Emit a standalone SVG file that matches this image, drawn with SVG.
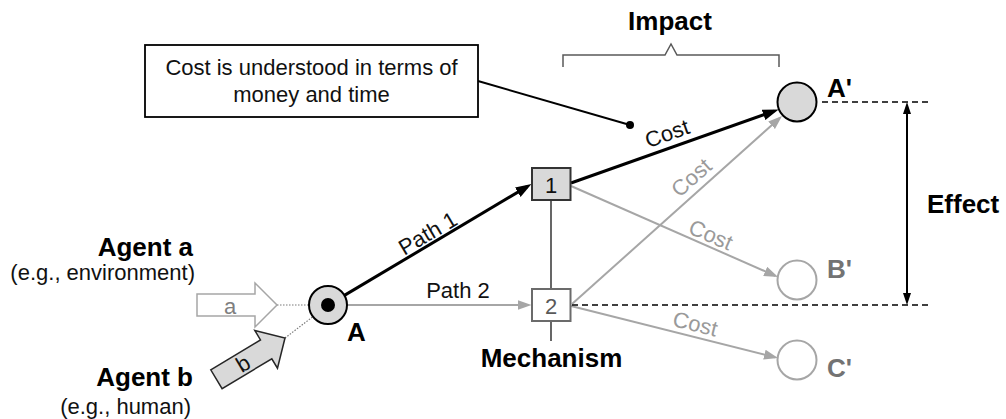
<svg xmlns="http://www.w3.org/2000/svg" width="1006" height="419" viewBox="0 0 1006 419">
  <defs>
    <style>
      text { font-family: "Liberation Sans", Arial, sans-serif; }
      .lbl { font-size: 22px; fill: #111; }
      .big { font-size: 26px; font-weight: bold; fill: #000; }
      .dim { fill: #737373; }
      .glab { font-size: 22px; fill: #9a9a9a; }
      .blk { stroke: #000; stroke-width: 3; fill: none; }
      .gry { stroke: #a6a6a6; stroke-width: 2; fill: none; }
      .dash { stroke: #000; stroke-width: 1.5; stroke-dasharray: 6 4; fill: none; }
      .dot { stroke: #7a7a7a; stroke-width: 1.2; stroke-dasharray: 1.5 1.5; fill: none; }
    </style>
    <marker id="ahBlack" markerUnits="userSpaceOnUse" markerWidth="16" markerHeight="12" refX="11" refY="6" orient="auto">
      <path d="M0,0.5 L16,6 L0,11.5 z" fill="#000"/>
    </marker>
    <marker id="ahGray" markerUnits="userSpaceOnUse" markerWidth="14" markerHeight="10" refX="11" refY="5" orient="auto">
      <path d="M0,0 L14,5 L0,10 z" fill="#a6a6a6"/>
    </marker>
    <marker id="ahDim" markerUnits="userSpaceOnUse" markerWidth="12" markerHeight="8" refX="9" refY="4" orient="auto-start-reverse">
      <path d="M0,0 L12,4 L0,8 z" fill="#000"/>
    </marker>
  </defs>

  <rect width="1006" height="419" fill="#fff"/>

  <!-- connectors -->
  <g id="connectors">
    <!-- A to mechanism 1 -->
    <line class="blk" x1="344.4" y1="295.4" x2="527.2" y2="186.6" marker-end="url(#ahBlack)"/>
    <g transform="translate(433.6,243.3) rotate(-30.5)"><text class="lbl" x="0" y="-4" text-anchor="middle">Path 1</text></g>
    <!-- A to mechanism 2 -->
    <line class="gry" x1="347" y1="305" x2="528.5" y2="305" marker-end="url(#ahGray)"/>
    <text class="lbl" x="458" y="298" text-anchor="middle">Path 2</text>
    <!-- mechanism 1 to A' -->
    <line class="blk" x1="571" y1="183" x2="773.9" y2="111.2" marker-end="url(#ahBlack)"/>
    <g transform="translate(672,147.2) rotate(-19.5)"><text class="lbl" x="0" y="-7" text-anchor="middle">Cost</text></g>
    <!-- mechanism 2 to A' -->
    <line class="gry" x1="572" y1="304" x2="779.8" y2="118" marker-end="url(#ahGray)"/>
    <g transform="translate(701,188.5) rotate(-41.8)"><text class="glab" x="0" y="-7" text-anchor="middle">Cost</text></g>
    <!-- mechanism 1 to B' -->
    <line class="gry" x1="571" y1="186" x2="775.3" y2="275.8" marker-end="url(#ahGray)"/>
    <g transform="translate(706.2,245.4) rotate(23.7)"><text class="glab" x="0" y="-4" text-anchor="middle">Cost</text></g>
    <!-- mechanism 2 to C' -->
    <line class="gry" x1="571" y1="306" x2="775.1" y2="357.3" marker-end="url(#ahGray)"/>
    <g transform="translate(692.3,336.1) rotate(14.1)"><text class="glab" x="0" y="-5" text-anchor="middle">Cost</text></g>
    <!-- agent inputs -->
    <line class="dot" x1="277" y1="305" x2="309" y2="305"/>
    <line class="dot" x1="285" y1="338" x2="313" y2="316.6"/>
    <!-- mechanism axis -->
    <line x1="551" y1="200" x2="551" y2="289" stroke="#000" stroke-width="1.2"/>
    <line x1="551" y1="321" x2="551" y2="341" stroke="#000" stroke-width="1.2"/>
    <!-- callout leader -->
    <line x1="478" y1="81" x2="630" y2="125" stroke="#000" stroke-width="2"/>
    <circle cx="630" cy="125" r="4" fill="#000"/>
  </g>

  <!-- agents -->
  <g id="agentA">
    <polygon points="197,294 255,294 255,283 277,305 255,327 255,316 197,316" fill="#fff" stroke="#a6a6a6" stroke-width="1.5"/>
    <text class="lbl" x="230" y="314" text-anchor="middle" style="fill:#7f7f7f">a</text>
    <text class="big" x="193" y="256" text-anchor="end">Agent a</text>
    <text class="lbl" x="195" y="280" text-anchor="end">(e.g., environment)</text>
  </g>
  <g id="agentB">
    <g transform="translate(285,338) rotate(-31)">
      <polygon points="-80,-11 -22,-11 -22,-22 0,0 -22,22 -22,11 -80,11" fill="#d9d9d9" stroke="#262626" stroke-width="1.5"/>
      <text class="lbl" x="-49" y="8" text-anchor="middle">b</text>
    </g>
    <text class="big" x="193" y="386" text-anchor="end">Agent b</text>
    <text class="lbl" x="191" y="414" text-anchor="end">(e.g., human)</text>
  </g>

  <!-- start state -->
  <g id="nodeA">
    <circle cx="328" cy="305" r="19" fill="#d9d9d9" stroke="#000" stroke-width="2"/>
    <circle cx="328" cy="305" r="7" fill="#000"/>
    <text class="big" x="347" y="341">A</text>
  </g>

  <!-- mechanisms -->
  <g id="mechanism1">
    <rect x="532" y="168" width="38.5" height="32" fill="#d9d9d9" stroke="#333" stroke-width="2"/>
    <text class="lbl" x="551.2" y="193" text-anchor="middle">1</text>
  </g>
  <g id="mechanism2">
    <rect x="532" y="289" width="38.5" height="32" fill="#fff" stroke="#6b6b6b" stroke-width="2"/>
    <text class="lbl" x="551.2" y="314" text-anchor="middle" style="fill:#595959">2</text>
  </g>
  <text id="mechanismLabel" class="big" x="551.5" y="367" text-anchor="middle">Mechanism</text>

  <!-- outcomes -->
  <g id="nodeAprime">
    <circle cx="797" cy="102" r="19.5" fill="#d9d9d9" stroke="#000" stroke-width="2"/>
    <text class="big" x="827" y="97">A'</text>
  </g>
  <g id="nodeBprime">
    <circle cx="797" cy="280" r="19.5" fill="#fff" stroke="#a6a6a6" stroke-width="2"/>
    <text class="big dim" x="827" y="278">B'</text>
  </g>
  <g id="nodeCprime">
    <circle cx="797" cy="360" r="19.5" fill="#fff" stroke="#a6a6a6" stroke-width="2"/>
    <text class="big dim" x="827" y="377">C'</text>
  </g>

  <!-- impact bracket -->
  <g id="impact">
    <path d="M563,67 V55 H665 L671,44 L677,55 H779 V67" fill="none" stroke="#595959" stroke-width="1.5"/>
    <text class="big" x="670" y="30" text-anchor="middle">Impact</text>
  </g>

  <!-- effect span -->
  <g id="effect">
    <line class="dash" x1="822" y1="102" x2="932" y2="102"/>
    <line class="dash" x1="572" y1="305" x2="932" y2="305"/>
    <line x1="907" y1="105" x2="907" y2="302" stroke="#000" stroke-width="2" marker-start="url(#ahDim)" marker-end="url(#ahDim)"/>
    <text class="big" x="927" y="213">Effect</text>
  </g>

  <!-- note -->
  <g id="callout">
    <rect x="145" y="45" width="333" height="72" fill="#fff" stroke="#000" stroke-width="1.8"/>
    <text class="lbl" x="311.5" y="75" text-anchor="middle">Cost is understood in terms of</text>
    <text class="lbl" x="311.5" y="102" text-anchor="middle">money and time</text>
  </g>
</svg>
